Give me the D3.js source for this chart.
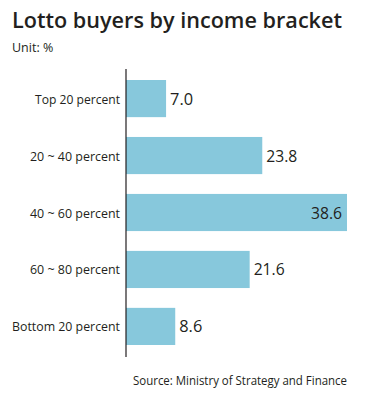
<!DOCTYPE html>
<html><head><meta charset="utf-8">
<script src="https://cdn.jsdelivr.net/npm/d3@7"></script>
<style>html,body{margin:0;padding:0;background:#fff;}svg{display:block;}</style>
</head><body>
<script>
const categories = ["Top 20 percent", "20 ~ 40 percent", "40 ~ 60 percent", "60 ~ 80 percent", "Bottom 20 percent"];
const values = [7.0, 23.8, 38.6, 21.6, 8.6];
const titleText = "Lotto buyers by income bracket";
const unitText = "Unit: %";
const sourceText = "Source: Ministry of Strategy and Finance";

const W = 366, H = 393;
const font = "'Open Sans', 'Noto Sans', sans-serif";
const svg = d3.select("body").append("svg").attr("width", W).attr("height", H);

const x0 = 126;
const x = d3.scaleLinear().domain([0, 38.6]).range([x0, 347]);
const y = d3.scaleBand().domain(categories).range([80, 345]).paddingInner(0.348).paddingOuter(0);

function fit(sel, w) {
  const n = sel.node();
  const l = n.getComputedTextLength();
  if (l > w) sel.attr("textLength", w).attr("lengthAdjust", "spacingAndGlyphs");
}

svg.append("text").text(titleText).attr("x", 12).attr("y", 28)
  .attr("font-family", font).attr("font-weight", 600).attr("font-size", 22).attr("fill", "#231f20")
  .call(fit, 330);
svg.append("text").text(unitText).attr("x", 12).attr("y", 52)
  .attr("font-family", font).attr("font-size", 12.5).attr("fill", "#231f20")
  .call(fit, 45);

svg.selectAll("rect.bar").data(values).enter().append("rect").attr("class", "bar")
  .attr("x", x0).attr("y", (d, i) => y(categories[i]))
  .attr("width", d => x(d) - x0).attr("height", y.bandwidth())
  .attr("fill", "#87c8dc");

svg.append("line").attr("x1", x0).attr("x2", x0).attr("y1", 69).attr("y2", 357)
  .attr("stroke", "#231f20").attr("stroke-width", 1.2);

svg.selectAll("text.cat").data(categories).enter().append("text").attr("class", "cat")
  .text(d => d).attr("x", 120).attr("y", d => y(d) + y.bandwidth() / 2 + 5)
  .attr("text-anchor", "end").attr("font-family", font).attr("font-size", 13.5).attr("fill", "#231f20")
  .each(function(d) {
    const s = d3.select(this);
    const target = {"Top 20 percent": 85, "20 ~ 40 percent": 90, "40 ~ 60 percent": 90, "60 ~ 80 percent": 90, "Bottom 20 percent": 108}[d];
    fit(s, target);
  });

svg.selectAll("text.val").data(values).enter().append("text").attr("class", "val")
  .text(d => d.toFixed(1))
  .attr("x", (d, i) => i === 2 ? x(d) - 5 : x(d) + 4)
  .attr("y", (d, i) => y(categories[i]) + y.bandwidth() / 2 + 6)
  .attr("text-anchor", (d, i) => i === 2 ? "end" : "start")
  .attr("font-family", font).attr("font-size", 17).attr("fill", "#231f20")
  .each(function() { const s = d3.select(this); fit(s, s.text().length === 3 ? 23 : 31); });

svg.append("text").text(sourceText).attr("x", 347).attr("y", 385).attr("text-anchor", "end")
  .attr("font-family", font).attr("font-size", 12.5).attr("fill", "#231f20")
  .call(fit, 214);
</script>
</body></html>
